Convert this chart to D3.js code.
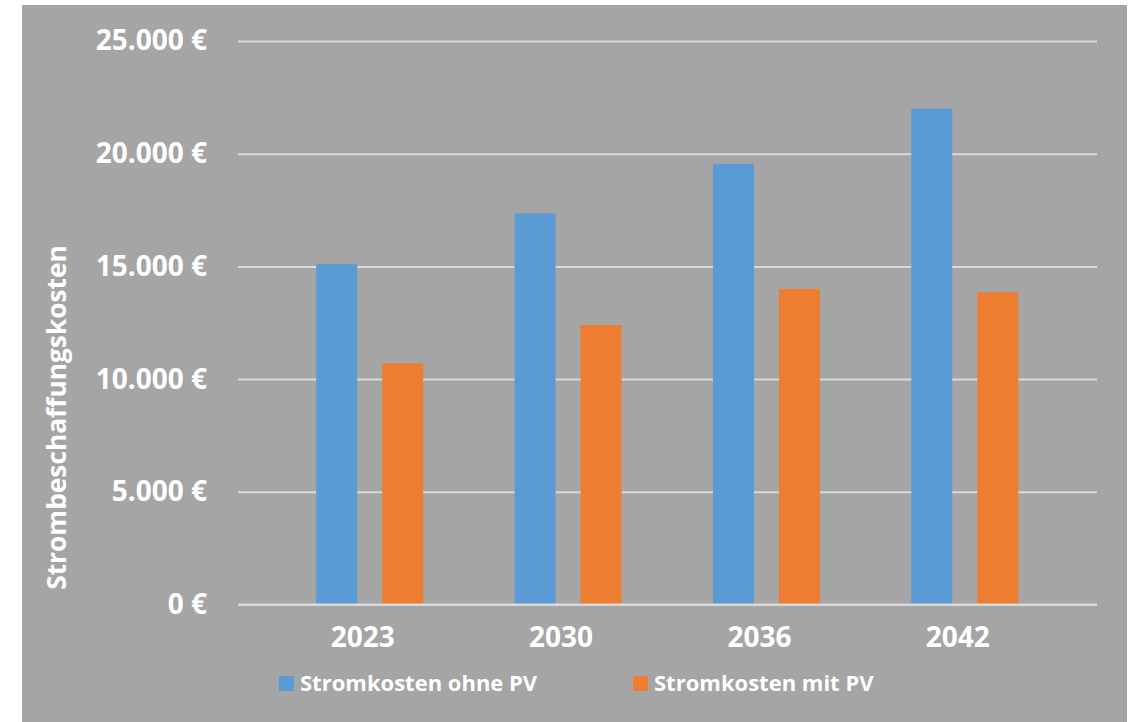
<!DOCTYPE html>
<html>
<head>
<meta charset="utf-8">
<script src="https://cdn.jsdelivr.net/npm/d3@7"></script>
<style>
html,body{margin:0;padding:0;background:#fff;}
svg{display:block;}
text{font-family:"Open Sans",sans-serif;font-weight:700;fill:#fff;}
</style>
</head>
<body>
<svg id="chart" width="1134" height="722"></svg>
<script>
const categories = ["2023", "2030", "2036", "2042"];
const seriesNames = ["Stromkosten ohne PV", "Stromkosten mit PV"];
const ohnePV = [15100, 17350, 19550, 22000];
const mitPV = [10700, 12400, 14000, 13850];
const yTicks = [0, 5000, 10000, 15000, 20000, 25000];
const yTitle = "Strombeschaffungskosten";
const colors = ["#5B9BD5", "#ED7D31"];

const svg = d3.select("#chart");
svg.append("rect").attr("x", 22).attr("y", 5).attr("width", 1105).attr("height", 717).attr("fill", "#A5A5A5");

const gridX0 = 238, gridX1 = 1097;
const y = d3.scaleLinear().domain([0, 25000]).range([604.5, 41]);
const x = d3.scaleBand().domain(categories).range([270.5, 1064]).paddingInner(0).paddingOuter(0);
const inner = d3.scaleBand().domain(seriesNames).range([x.bandwidth()/2 - 53.5, x.bandwidth()/2 + 53.5]).paddingInner(25/66).paddingOuter(0);

const fmt = v => d3.format(",")(v).replace(/,/g, ".") + " €";

// gridlines
const yAxis = d3.axisLeft(y).tickValues(yTicks).tickSize(-(gridX1 - gridX0)).tickFormat(fmt).tickPadding(31);
const gy = svg.append("g").attr("transform", `translate(${gridX0},0)`).call(yAxis);
gy.select(".domain").remove();
gy.selectAll(".tick line").attr("stroke", "#D9D9D9").attr("stroke-width", 2);
gy.selectAll(".tick text").attr("font-size", 28).attr("fill", "#fff").attr("font-family", "Open Sans").attr("font-weight", 700);

// bars
const data = categories.map((c, i) => ({cat: c, vals: [ohnePV[i], mitPV[i]]}));
const groups = svg.append("g").selectAll("g").data(data).join("g")
  .attr("transform", d => `translate(${x(d.cat)},0)`);
groups.selectAll("rect").data(d => d.vals.map((v, j) => ({name: seriesNames[j], v, j})))
  .join("rect")
  .attr("x", d => inner(d.name))
  .attr("width", inner.bandwidth())
  .attr("y", d => y(d.v))
  .attr("height", d => y(0) - y(d.v))
  .attr("fill", d => colors[d.j]);

// baseline redraw on top
svg.append("line").attr("x1", gridX0).attr("x2", gridX1).attr("y1", y(0)).attr("y2", y(0)).attr("stroke", "#D9D9D9").attr("stroke-width", 2);

// x axis labels
const xAxis = d3.axisBottom(x).tickSize(0).tickPadding(0);
const gx = svg.append("g").attr("transform", `translate(-7,${y(0)})`).call(xAxis);
gx.select(".domain").remove();
gx.selectAll(".tick text").attr("font-size", 28).attr("fill", "#fff").attr("font-family", "Open Sans").attr("font-weight", 700).attr("dy", null).attr("y", 42);

// y title
svg.append("text").attr("transform", "translate(66,417.5) rotate(-90)").attr("text-anchor", "middle")
  .attr("font-size", 26.3).text(yTitle);

// legend
const legendX = [279, 633];
const lg = svg.append("g").selectAll("g").data(seriesNames).join("g")
  .attr("transform", (d, i) => `translate(${legendX[i]},676)`);
lg.append("rect").attr("width", 15).attr("height", 15).attr("fill", (d, i) => colors[i]);
lg.append("text").attr("x", 21).attr("y", 15).attr("font-size", 22).text(d => d);
</script>
</body>
</html>
